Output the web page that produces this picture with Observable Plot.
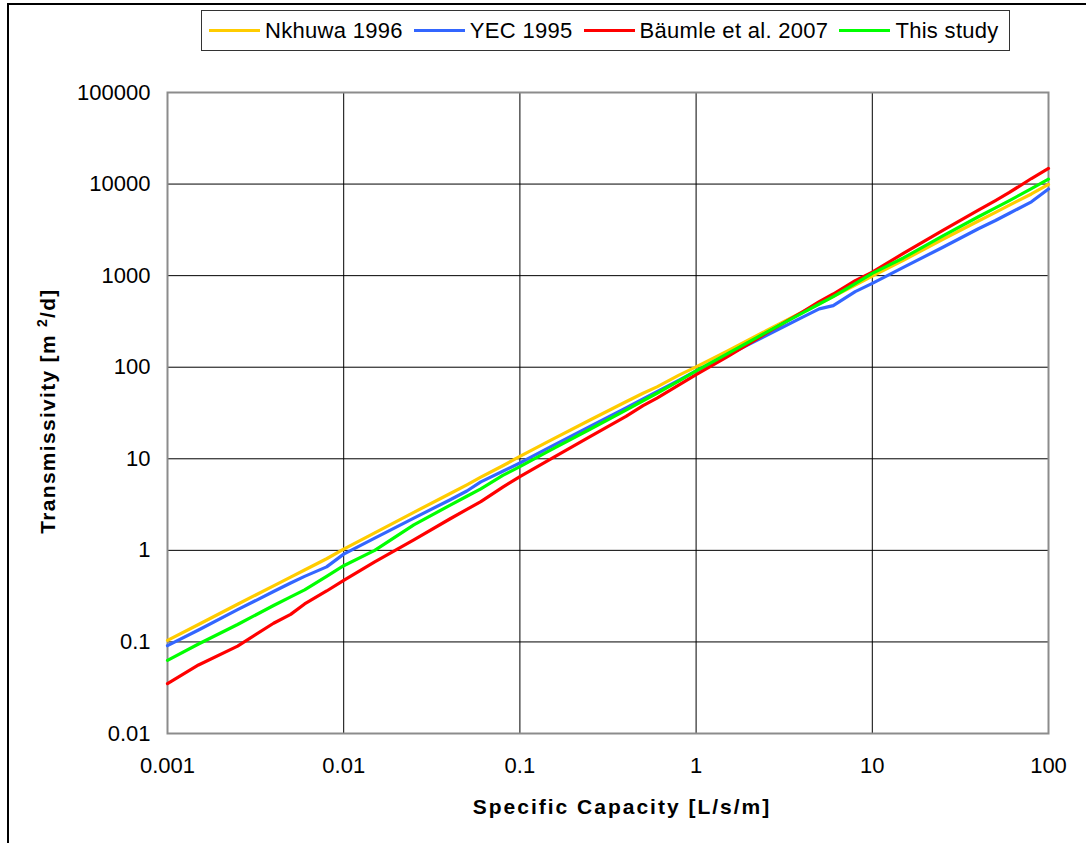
<!DOCTYPE html>
<html><head><meta charset="utf-8">
<script src="https://cdn.jsdelivr.net/npm/d3@7"></script>
<script src="https://cdn.jsdelivr.net/npm/@observablehq/plot@0.6"></script>
<style>
body{margin:0;background:#fff;font-family:"Liberation Sans",Arial,sans-serif;}
#wrap{position:relative;width:1086px;height:843px;overflow:hidden;background:#fff;}
#chart{position:absolute;left:0;top:0;}
#frame{position:absolute;left:7px;top:3px;width:1200px;height:1000px;border-left:2px solid #000;border-top:2px solid #000;pointer-events:none;}
#legend{position:absolute;left:201px;top:10px;height:41px;border:1px solid #333;display:flex;align-items:center;padding:0 10px 0 7px;font-size:22px;letter-spacing:0.3px;background:#fff;box-sizing:border-box;white-space:nowrap;}
.item{display:flex;align-items:center;margin-right:11px;}
.item:last-child{margin-right:0;}
.sw{width:51px;height:3px;margin-right:5px;}
</style></head>
<body>
<div id="wrap">
  <div id="chart"></div>
  <div id="frame"></div>
  <div id="legend"></div>
</div>
<script>
// Specific capacity [L/s/m] (x) shared by all series
const capacity = [0.001, 0.0015, 0.0025, 0.004, 0.005, 0.006, 0.008, 0.01, 0.015, 0.025, 0.04, 0.05, 0.06, 0.08, 0.1, 0.15, 0.25, 0.4, 0.5, 0.6, 0.8, 1, 1.5, 2.5, 4, 5, 6, 8, 10, 15, 25, 40, 50, 60, 80, 100];
// Transmissivity [m2/d]
const nkhuwa1996 = [0.104, 0.155, 0.258, 0.41, 0.51, 0.61, 0.81, 1.03, 1.55, 2.6, 4.15, 5.2, 6.3, 8.4, 10.6, 16, 26.5, 42, 52, 61, 82, 101, 150, 250, 400, 495, 590, 790, 990, 1470, 2480, 3950, 4900, 5900, 7800, 9900];
const yec1995 = [0.091, 0.135, 0.225, 0.355, 0.44, 0.52, 0.66, 0.91, 1.36, 2.25, 3.55, 4.45, 5.6, 7.3, 9.0, 13.6, 22.5, 36, 45, 54, 72, 91, 135, 222, 350, 433, 470, 670, 824, 1230, 2030, 3250, 4000, 4800, 6400, 8820];
const baumle2007 = [0.035, 0.056, 0.09, 0.16, 0.2, 0.26, 0.36, 0.47, 0.75, 1.3, 2.2, 2.8, 3.4, 4.9, 6.4, 10, 17.5, 29, 38, 46, 64, 83, 130, 235, 400, 520, 630, 880, 1090, 1750, 3100, 5200, 6600, 8100, 11500, 14800];
const thisStudy = [0.063, 0.095, 0.155, 0.25, 0.31, 0.37, 0.52, 0.68, 1.0, 1.9, 3.1, 3.9, 4.7, 6.6, 8.2, 12.5, 21, 34, 43, 52, 71, 91, 140, 240, 390, 490, 590, 820, 1060, 1560, 2700, 4400, 5500, 6600, 8900, 11300];

const seriesNames = ["Nkhuwa 1996", "YEC 1995", "Bäumle et al. 2007", "This study"];
const seriesValues = [nkhuwa1996, yec1995, baumle2007, thisStudy];
const seriesColors = ["#FFCC00", "#3366FF", "#FF0000", "#00FF00"];

const xTicks = [0.001, 0.01, 0.1, 1, 10, 100];
const xTickLabels = ["0.001", "0.01", "0.1", "1", "10", "100"];
const yTicks = [0.01, 0.1, 1, 10, 100, 1000, 10000, 100000];
const yTickLabels = ["0.01", "0.1", "1", "10", "100", "1000", "10000", "100000"];

const rows = seriesNames.flatMap((name, s) =>
  capacity.map((q, i) => ({series: name, q, t: seriesValues[s][i]})));

const plot = Plot.plot({
  width: 1086,
  height: 843,
  marginLeft: 167,
  marginRight: 38,
  marginTop: 92,
  marginBottom: 110,
  style: {fontFamily: '"Liberation Sans", Arial, sans-serif', fontSize: "22px", color: "#000", background: "transparent", overflow: "visible"},
  x: {type: "log", domain: [0.001, 100]},
  y: {type: "log", domain: [0.01, 100000]},
  color: {domain: seriesNames, range: seriesColors},
  marks: [
    Plot.gridX(xTicks, {stroke: "#000", strokeOpacity: 1, strokeWidth: 1}),
    Plot.gridY(yTicks, {stroke: "#000", strokeOpacity: 1, strokeWidth: 1}),
    Plot.frame({stroke: "#8c8c8c", strokeWidth: 2}),
    Plot.axisX(xTicks, {tickSize: 0, tickPadding: 24, tickFormat: d => xTickLabels[xTicks.indexOf(d)], label: null}),
    Plot.axisY(yTicks, {tickSize: 0, tickPadding: 17, tickFormat: d => yTickLabels[yTicks.indexOf(d)], label: null}),
    Plot.line(rows, {x: "q", y: "t", z: "series", stroke: "series", strokeWidth: 3.2, strokeLinejoin: "round"})
  ]
});
document.getElementById("chart").appendChild(plot);

const svg = d3.select(plot);
// Axis titles
svg.append("text")
  .attr("x", 622).attr("y", 814)
  .attr("text-anchor", "middle")
  .attr("font-weight", "bold").attr("font-size", 21).attr("letter-spacing", "2px")
  .attr("fill", "#000")
  .text("Specific Capacity [L/s/m]");
const yt = svg.append("text")
  .attr("transform", "translate(55,411) rotate(-90)")
  .attr("text-anchor", "middle")
  .attr("font-weight", "bold").attr("font-size", 21).attr("letter-spacing", "1.3px")
  .attr("fill", "#000");
yt.append("tspan").text("Transmissivity [m ");
yt.append("tspan").attr("font-size", 14).attr("dy", -8).text("2");
yt.append("tspan").attr("dy", 8).text("/d]");

// Legend
const legend = d3.select("#legend");
seriesNames.forEach((name, i) => {
  const it = legend.append("div").attr("class", "item");
  it.append("div").attr("class", "sw").style("background", seriesColors[i]);
  it.append("span").text(name);
});
</script>
</body></html>
